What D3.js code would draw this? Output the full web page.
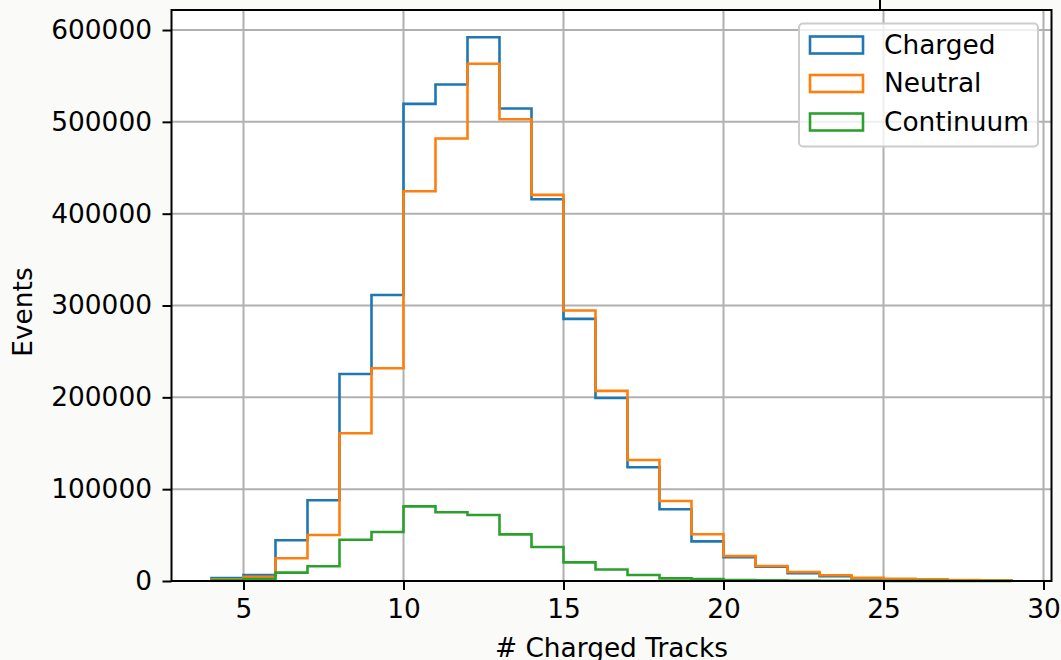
<!DOCTYPE html>
<html>
<head>
<meta charset="utf-8">
<script src="https://cdn.jsdelivr.net/npm/d3@7"></script>
<style>
  html, body { margin: 0; padding: 0; background: #fafaf8; }
  svg { display: block; font-family: "DejaVu Sans", sans-serif; }
</style>
</head>
<body>
<div id="chart"></div>
<script>
// bin edges (# charged tracks)
const binEdges = [4, 5, 6, 7, 8, 9, 10, 11, 12, 13, 14, 15, 16, 17, 18, 19, 20, 21, 22, 23, 24, 25, 26, 27, 28, 29];

// events per bin
const charged = [3300, 6500, 44300, 87900, 225500, 311500, 519600, 540600, 592200, 514500, 415800, 285400, 199300, 123800, 78100, 43200, 25800, 15600, 8400, 5100, 2900, 1800, 1100, 700, 400];
const neutral = [1800, 4700, 24700, 50100, 160900, 231700, 424500, 481800, 563200, 502900, 420500, 294500, 207000, 131800, 87100, 50900, 27200, 16300, 9800, 6200, 3600, 2500, 1800, 1100, 700];
const continuum = [1000, 2000, 9100, 16000, 45000, 53400, 81300, 74800, 71900, 50800, 37000, 20300, 12500, 6500, 2900, 2200, 1100, 700, 400, 300, 200, 150, 100, 60, 40];

const seriesNames = ['Charged', 'Neutral', 'Continuum'];
const seriesColors = ['#1f77b4', '#ff7f0e', '#2ca02c'];

const xTicks = [5, 10, 15, 20, 25, 30];
const yTicks = [0, 100000, 200000, 300000, 400000, 500000, 600000];

const width = 1061;
const height = 660;
const plotLeft = 171.5, plotRight = 1051.5, plotTop = 10, plotBottom = 581;
const fontSize = 26.4;

const svg = d3.select('#chart')
  .append('svg')
  .attr('width', width)
  .attr('height', height);

// matplotlib-like 5% margins
const xMin = binEdges[0], xMax = binEdges[binEdges.length - 1];
const xPad = (xMax - xMin) * 0.05;
const yMax = d3.max([charged, neutral, continuum].flat()) * 1.05;

const x = d3.scaleLinear().domain([xMin - xPad, xMax + xPad]).range([plotLeft, plotRight]);
const y = d3.scaleLinear().domain([0, yMax]).range([plotBottom, plotTop]);

// plot background
svg.append('rect')
  .attr('x', plotLeft).attr('y', plotTop)
  .attr('width', plotRight - plotLeft).attr('height', plotBottom - plotTop)
  .attr('fill', '#ffffff');

// grid
const grid = svg.append('g');
grid.selectAll('.gx')
  .data(xTicks)
  .enter()
  .append('line')
  .attr('x1', d => x(d)).attr('x2', d => x(d))
  .attr('y1', plotTop).attr('y2', plotBottom)
  .attr('stroke', '#b0b0b0').attr('stroke-width', 2);
grid.selectAll('.gy')
  .data(yTicks)
  .enter()
  .append('line')
  .attr('x1', plotLeft).attr('x2', plotRight)
  .attr('y1', d => y(d)).attr('y2', d => y(d))
  .attr('stroke', '#b0b0b0').attr('stroke-width', 2);

// step histograms
const line = d3.line()
  .x(d => x(d[0]))
  .y(d => y(d[1]));

function stepPoints(values) {
  const pts = [[binEdges[0], 0]];
  for (let i = 0; i < values.length; i++) {
    pts.push([binEdges[i], values[i]]);
    pts.push([binEdges[i + 1], values[i]]);
  }
  pts.push([binEdges[binEdges.length - 1], 0]);
  return pts;
}

[charged, neutral, continuum].forEach((vals, i) => {
  svg.append('path')
    .attr('d', line(stepPoints(vals)))
    .attr('fill', 'none')
    .attr('stroke', seriesColors[i])
    .attr('stroke-width', 2.6)
    .attr('stroke-linejoin', 'miter');
});

// axes
const xAxis = svg.append('g')
  .attr('transform', 'translate(0,' + plotBottom + ')')
  .call(d3.axisBottom(x).tickValues(xTicks).tickSize(9).tickPadding(9).tickFormat(d3.format('d')));
const yAxis = svg.append('g')
  .attr('transform', 'translate(' + plotLeft + ',0)')
  .call(d3.axisLeft(y).tickValues(yTicks).tickSize(9).tickPadding(10.5).tickFormat(d3.format('d')));

[xAxis, yAxis].forEach(g => {
  g.select('.domain').remove();
  g.selectAll('.tick line').attr('stroke', '#000').attr('stroke-width', 2);
  g.selectAll('.tick text')
    .attr('fill', '#000')
    .style('font-family', '"DejaVu Sans", sans-serif')
    .style('font-size', fontSize + 'px');
});

// spines
svg.append('rect')
  .attr('x', plotLeft).attr('y', plotTop)
  .attr('width', plotRight - plotLeft).attr('height', plotBottom - plotTop)
  .attr('fill', 'none')
  .attr('stroke', '#000')
  .attr('stroke-width', 2);

// stray tick of the panel above
svg.append('line')
  .attr('x1', 880).attr('x2', 880)
  .attr('y1', 0).attr('y2', plotTop)
  .attr('stroke', '#000').attr('stroke-width', 2);

// axis labels
svg.append('text')
  .attr('x', (plotLeft + plotRight) / 2)
  .attr('y', 656.5)
  .attr('text-anchor', 'middle')
  .style('font-size', fontSize + 'px')
  .text('# Charged Tracks');

svg.append('text')
  .attr('transform', 'translate(32,312) rotate(-90)')
  .attr('text-anchor', 'middle')
  .style('font-size', fontSize + 'px')
  .text('Events');

// legend
const legend = svg.append('g');
legend.append('rect')
  .attr('x', 799).attr('y', 23.5)
  .attr('width', 239).attr('height', 123)
  .attr('rx', 4)
  .attr('fill', '#ffffff').attr('fill-opacity', 0.8)
  .attr('stroke', '#cccccc').attr('stroke-width', 2);

const rows = legend.selectAll('.row')
  .data(seriesNames)
  .enter()
  .append('g')
  .attr('transform', (d, i) => 'translate(0,' + (i * 38.5) + ')');

rows.append('rect')
  .attr('x', 810).attr('y', 36.5)
  .attr('width', 53).attr('height', 17)
  .attr('fill', 'none')
  .attr('stroke', (d, i) => seriesColors[i])
  .attr('stroke-width', 2.6);

rows.append('text')
  .attr('x', 884).attr('y', 53.5)
  .style('font-size', fontSize + 'px')
  .text(d => d);
</script>
</body>
</html>
